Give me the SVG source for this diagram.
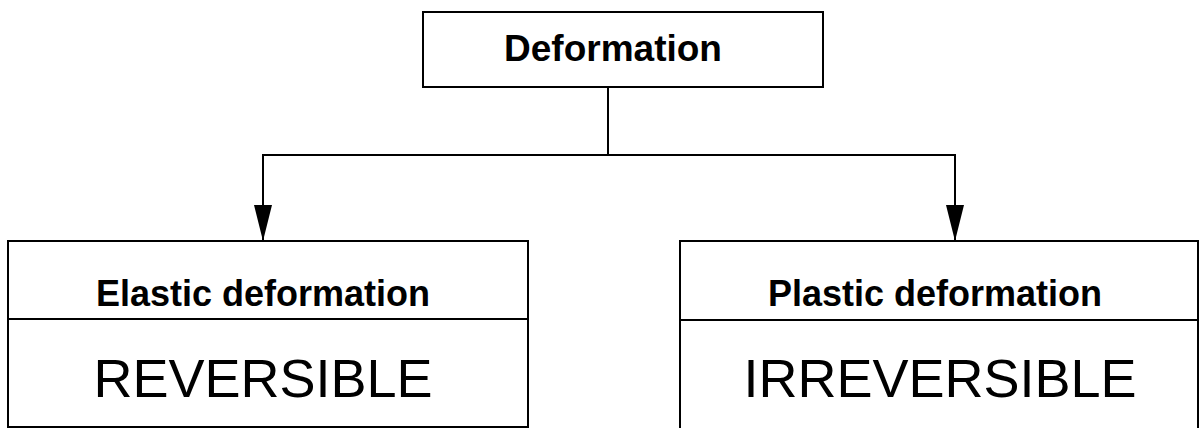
<svg xmlns="http://www.w3.org/2000/svg" width="1200" height="428" viewBox="0 0 1200 428">
  <style>
    .box { fill: #ffffff; stroke: #000000; stroke-width: 2; }
    .rule { stroke: #000000; stroke-width: 2; }
    .wire { fill: none; stroke: #000000; stroke-width: 2; }
    .head { font-family: "Liberation Sans", Arial, sans-serif; font-weight: bold; font-size: 36px; fill: #000000; text-anchor: middle; }
    .big { font-family: "Liberation Sans", Arial, sans-serif; font-size: 54px; fill: #000000; text-anchor: middle; }
  </style>
  <defs>
    <!-- long, narrow filled arrowhead: 36 long, 18 wide -->
    <marker id="arrow" viewBox="0 0 36 18" refX="36" refY="9" markerWidth="36" markerHeight="18" markerUnits="userSpaceOnUse" orient="auto">
      <path d="M0,0 L36,9 L0,18 Z" fill="#000000"/>
    </marker>
  </defs>
  <rect width="1200" height="428" fill="#ffffff"/>

  <g id="connectors">
    <line class="wire" x1="608" y1="87" x2="608" y2="155"/>
    <polyline class="wire" points="263,155 955,155"/>
    <line class="wire" x1="263" y1="154" x2="263" y2="241" marker-end="url(#arrow)"/>
    <line class="wire" x1="955" y1="154" x2="955" y2="241" marker-end="url(#arrow)"/>
  </g>

  <g id="deformation">
    <rect class="box" x="423" y="12" width="400" height="75"/>
    <text class="head" x="613" y="61" style="font-size:37px">Deformation</text>
  </g>

  <g id="elastic">
    <rect class="box" x="8" y="241" width="520" height="186"/>
    <line class="rule" x1="8" y1="319" x2="528" y2="319"/>
    <text class="head" x="263" y="306">Elastic deformation</text>
    <text class="big" x="263" y="397">REVERSIBLE</text>
  </g>

  <g id="plastic">
    <rect class="box" x="680" y="241" width="518" height="200"/>
    <line class="rule" x1="680" y1="320" x2="1198" y2="320"/>
    <text class="head" x="935" y="306">Plastic deformation</text>
    <text class="big" x="940" y="397">IRREVERSIBLE</text>
  </g>
</svg>
